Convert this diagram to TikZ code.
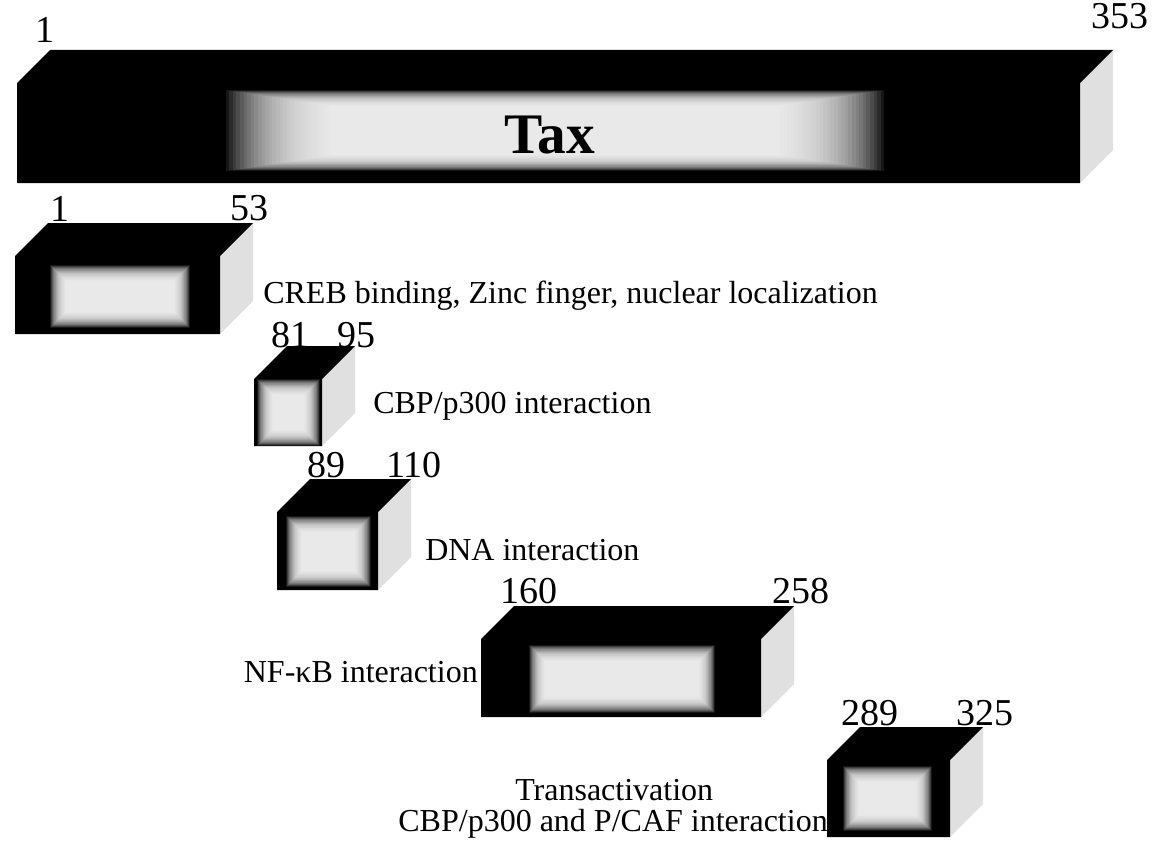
\documentclass[tikz,border=0pt]{standalone}
\usepackage{fontspec}
\setmainfont{Liberation Serif}

% one domain as a box: front face (#1,#2)-(#3,#4), bright core (#5,#6)-(#7,#8), horizontal blur step #9
\newcommand{\domainbox}[9]{%
    \fill[sideface] (#3,#2) -- ++(33,-33) -- ({#3+33},{#4-33}) -- (#3,#4) -- cycle;
    \fill[black] (#1,#4) -- (#1,#2) -- ++(33,-33) -- ({#3+33},{#2-33}) -- (#3,#2) -- (#3,#4) -- cycle;
    \begin{scope}
        \clip (#1,#2) rectangle (#3,#4);
        \foreach \k in {0,...,29}
            \fill[glow] ({#5-\k*#9},{#6-\k*.55}) rectangle ({#7+\k*#9},{#8+\k*.55});
    \end{scope}}

\begin{document}
\begin{tikzpicture}[x=.75pt,y=-.75pt,
    sideface/.style={fill=black!12},
    glow/.style={fill=white,opacity=.085},
    num/.style={font=\fontsize{28.5}{28.5}\selectfont,anchor=base,inner sep=0pt},
    desc/.style={font=\fontsize{24}{26}\selectfont,anchor=base west,inner sep=0pt}]
    \useasboundingbox (0,0) rectangle (1163,856);
    % whole protein
    \domainbox{17}{83}{1080}{183}{330}{106}{780}{155}{3.6}
    \node[font=\bfseries\fontsize{43}{43}\selectfont,anchor=base,inner sep=0pt] (tax) at (550,153) {Tax};
    \node[num] (taxfirst) at (45,43) {1};
    \node[num] (taxlast) at (1120,29) {353};
    % domains
    \domainbox{15}{256}{220}{334}{66}{281}{174}{312}{.55}
    \node[num] (crebfirst) at (60,221) {1};
    \node[num] (creblast) at (249,220) {53};
    \node[desc] (creb) at (263,303) {CREB binding, Zinc finger, nuclear localization};

    \domainbox{254}{379}{322}{446}{273}{395}{304}{430}{.55}
    \node[num] (cbpfirst) at (290,347) {81};
    \node[num] (cbplast) at (356,347) {95};
    \node[desc] (cbp) at (373,413) {CBP/p300 interaction};

    \domainbox{277}{512}{378}{590}{302}{532}{355}{571}{.55}
    \node[num] (dnafirst) at (326,477) {89};
    \node[num] (dnalast) at (414,477) {110};
    \node[desc] (dna) at (425,560) {DNA interaction};

    \domainbox{481}{639}{761}{717}{545}{661}{699}{697}{.55}
    \node[num] (nfkbfirst) at (529,603) {160};
    \node[num] (nfkblast) at (801,603) {258};
    \node[desc,anchor=base east] (nfkb) at (478,682) {NF-κB interaction};

    \domainbox{827}{760}{950}{837}{859}{782}{916}{815}{.55}
    \node[num] (transfirst) at (870,725) {289};
    \node[num] (translast) at (985,725) {325};
    \node[desc] (trans) at (515,800) {Transactivation};
    \node[desc,anchor=base east] (transcaf) at (828,831) {CBP/p300 and P/CAF interaction};
\end{tikzpicture}
\end{document}
